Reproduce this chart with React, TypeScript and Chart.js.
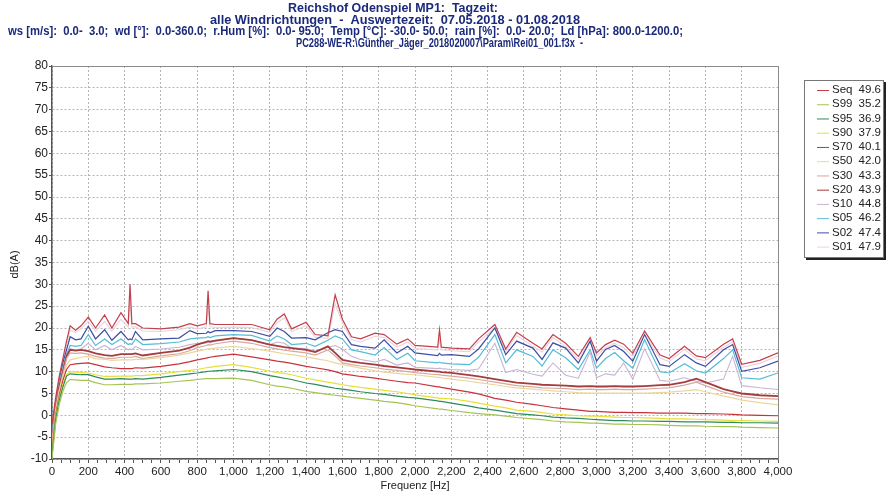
import { useEffect, useRef } from "react";
import { Chart, registerables } from "chart.js";

Chart.register(...registerables);

// ---------- DATA ----------
const freqHz = [
  0, 20, 40, 60, 80,
  100, 130, 160, 200, 240,
  290, 330, 380, 420, 430,
  440, 460, 500, 600, 700,
  760, 800, 850, 860, 870,
  900, 1000, 1100, 1200, 1240,
  1280, 1320, 1400, 1450, 1520,
  1560, 1600, 1650, 1700, 1780,
  1830, 1900, 1960, 2000, 2125,
  2135, 2145, 2200, 2300, 2350,
  2440, 2500, 2560, 2650, 2700,
  2760, 2830, 2900, 2965, 3000,
  3050, 3100, 3150, 3200, 3265,
  3350, 3400, 3485, 3550, 3600,
  3700, 3750, 3800, 3900, 4000,
];

const seq = [
  -2, 4, 9, 13, 17,
  20.5, 19.5, 20.5, 22.5, 20,
  23, 20, 23.5, 21, 30,
  21, 21, 20, 19.8, 20.2,
  21, 20.5, 21, 28.5, 21,
  20.8, 20.8, 20.8, 19.6, 22,
  23.2, 19.8, 21.3, 18.5, 18.2,
  27.6, 22, 18, 17.5, 18.8,
  18.5, 16.3, 17.5, 16, 15.6,
  19.6, 15.6, 15.4, 15.2, 17.5,
  20.8, 15.2, 19, 16.5, 15.2,
  18.5, 16.5, 13.5, 17.8, 14.3,
  16.2, 17.2, 16.3, 14.2, 19.3,
  13.8, 13, 15.8, 13.6, 13.2,
  16.3, 17.5, 11.7, 12.6, 14.3,
];
const s01 = [
  -3, 3.5, 8.5, 12.5, 16,
  19.5, 19, 19.8, 21.5, 19.3,
  21.5, 19.3, 22, 20.2, 26,
  20.2, 20.3, 19.3, 19.2, 19.6,
  20.2, 19.8, 20.2, 25, 20.3,
  20.1, 20.2, 20.1, 19, 21.2,
  22.3, 19.2, 20.5, 17.9, 17.6,
  25.5, 21.2, 17.3, 16.8, 18.1,
  17.8, 15.6, 16.8, 15.3, 15,
  17.5, 15, 14.8, 14.6, 16.8,
  20, 14.6, 18.3, 15.8, 14.5,
  17.8, 15.8, 12.8, 17, 13.6,
  15.5, 16.5, 15.5, 13.5, 18.5,
  13.1, 12.3, 15.1, 12.9, 12.5,
  15.6, 16.8, 11, 11.9, 13.6,
];
const s02 = [
  -3, 3, 8, 12, 15,
  18, 17.3, 17.5, 20.4, 17.5,
  19.6, 17.2, 19.2, 17.3, 17.5,
  17.3, 19.2, 17.3, 17.5, 17.7,
  19.4, 18.7, 18.8, 19.2, 18.9,
  19.4, 19.4, 19.2, 18.1, 20,
  19.2, 17.7, 17.8, 17.3, 18.9,
  19.6, 19.2, 16.2, 15.8, 15.4,
  17.3, 14.3, 15.8, 14.3, 13.7,
  14.2, 13.8, 13.9, 13.5, 15.2,
  20, 13.9, 17, 15.4, 12.8,
  16.6, 15.4, 12, 17, 12.4,
  15.1, 16, 14.6, 12.4, 18.5,
  11.6, 11.2, 13.9, 12, 11.2,
  15, 16.2, 10.1, 10.9, 12.4,
];
const s05 = [
  -4, 2.5, 7.5, 11, 14,
  16, 15.8, 16, 18.5, 16,
  17.5, 16.2, 17.5, 16.2, 16.4,
  16.2, 17.5, 16.2, 16.4, 16.8,
  17.5, 17.7, 17.8, 18, 17.8,
  18.2, 18.5, 18.3, 17, 18.2,
  17.5, 16.2, 16.5, 15.8, 17.2,
  18.2, 17.5, 15, 14.6, 13.8,
  15.5, 12.8, 14.2, 12.5, 12,
  12.2, 12, 11.8, 11.6, 13.3,
  18.5, 12, 15, 13.5, 11.3,
  15, 13.2, 10.5, 15, 10.8,
  13, 14.4, 12.5, 10.8, 17.3,
  10, 9.7, 11.8, 10.2, 9.7,
  13, 15, 8.6, 8.3, 9.7,
];
const s10 = [
  -5, 2, 7, 10.5, 13.5,
  15.2, 15, 15.2, 16.5, 15,
  16, 15, 16, 15, 15.2,
  15, 15.8, 15, 15.2, 15.6,
  16.2, 16.5, 16.6, 16.8, 16.6,
  17, 17.7, 17.2, 16.2, 16.8,
  16.5, 15.4, 15.3, 14.7, 15.6,
  16, 15.2, 13.5, 12.8, 12.2,
  12.8, 11.5, 12, 11, 10.7,
  10.8, 10.7, 10.5, 10.3, 10.6,
  16.5, 9.8, 10.5, 9.4, 9,
  12, 9.2, 8.5, 14.5, 8.6,
  9.5, 9.2, 12, 8.3, 15.3,
  8, 7.8, 8.6, 7.8, 7.4,
  8.3, 13.5, 6.8, 6.3, 5.9,
];
const s20 = [
  -6, 1.5, 6.5, 10, 13.5,
  15, 14.8, 15, 14.7, 14.2,
  13.8, 13.6, 14, 14, 14,
  14, 14.2, 13.7, 14.3, 14.8,
  15.5, 16.2, 16.8, 17, 16.9,
  17.1, 17.7, 17.2, 16.2, 15.9,
  15.6, 15.4, 15, 14.5, 15.8,
  14.3, 12.7, 12.3, 12, 11.6,
  11.3, 11, 10.7, 10.5, 10,
  10, 9.9, 9.7, 9.2, 8.9,
  8.3, 7.9, 7.5, 7.2, 7,
  6.9, 6.8, 6.6, 6.7, 6.6,
  6.6, 6.7, 6.6, 6.6, 6.7,
  6.9, 7, 7.6, 8.4, 7.6,
  6, 5.5, 5, 4.6, 4.4,
];
const s30 = [
  -6, 1.5, 6, 9.5, 13,
  14.3, 14.2, 14.3, 14, 13.5,
  13.1, 13, 13.3, 13.3, 13.3,
  13.3, 13.5, 13, 13.6, 14.1,
  14.8, 15.5, 16, 16.2, 16.1,
  16.4, 17, 16.5, 15.5, 15.2,
  14.9, 14.7, 14.3, 13.8, 15,
  13.6, 12, 11.6, 11.3, 10.9,
  10.6, 10.3, 10, 9.8, 9.3,
  9.3, 9.2, 9, 8.5, 8.2,
  7.6, 7.2, 6.8, 6.5, 6.3,
  6.2, 6.1, 5.9, 6, 5.9,
  5.9, 6, 5.9, 5.9, 6,
  6.2, 6.3, 6.9, 7.6, 6.8,
  5.3, 4.8, 4.3, 3.9, 3.7,
];
const s50 = [
  -7, 1, 5.5, 9, 11.5,
  12.7, 13, 13.3, 13.5, 13,
  12.8, 12.6, 12.7, 12.7, 12.7,
  12.7, 12.8, 12.8, 13.2, 13.8,
  14.3, 14.7, 15.1, 15.2, 15.2,
  15.4, 15.8, 15.3, 14.7, 14.4,
  14.1, 13.9, 13.4, 13, 12.5,
  12, 11.6, 11.2, 10.8, 10.2,
  9.9, 9.6, 9.4, 9.3, 8.7,
  8.7, 8.6, 8.3, 7.8, 7.5,
  7, 6.6, 6.3, 6, 5.8,
  5.6, 5.4, 5.2, 5.1, 5.1,
  5.1, 5.1, 5.1, 5.1, 5.1,
  5.2, 5.3, 5.6, 5.9, 5.4,
  4.4, 4, 3.5, 2.9, 2.4,
];
const s70 = [
  -8, 0, 4.5, 8, 10.5,
  11.6, 11.8, 11.9, 12, 11.6,
  11.1, 10.9, 10.7, 10.7, 10.7,
  10.7, 10.9, 10.8, 11.2, 11.8,
  12.3, 12.7, 13.1, 13.2, 13.3,
  13.5, 14, 13.4, 12.7, 12.4,
  12.2, 11.9, 11.2, 10.9, 10.4,
  10, 9.5, 9.2, 8.9, 8.5,
  8.2, 7.8, 7.5, 7.4, 6.5,
  6.5, 6.4, 6, 5.3, 4.9,
  3.9, 3.5, 3, 2.5, 2.2,
  1.8, 1.5, 1.2, 0.9, 0.9,
  0.8, 0.7, 0.7, 0.6, 0.6,
  0.5, 0.5, 0.5, 0.4, 0.4,
  0.3, 0.2, 0.1, 0, -0.1,
];
const s90 = [
  -8.5, -0.5, 4, 7, 9.3,
  10, 9.9, 9.8, 9.7, 9.3,
  8.9, 8.9, 9, 9, 9,
  9, 9.1, 9.1, 9.5, 10,
  10.3, 10.5, 10.9, 11, 11,
  11.2, 11.6, 11, 10.1, 9.8,
  9.6, 9.3, 8.5, 8.1, 7.6,
  7.3, 7, 6.7, 6.4, 6,
  5.7, 5.4, 5, 4.7, 4,
  3.9, 3.9, 3.8, 3.2, 2.8,
  2.1, 1.7, 1.2, 0.9, 0.6,
  0.3, 0.1, -0.1, -0.2, -0.2,
  -0.3, -0.4, -0.5, -0.5, -0.6,
  -0.7, -0.8, -0.8, -0.9, -1,
  -1.1, -1.2, -1.2, -1.3, -1.4,
];
const s95 = [
  -9, -1, 3.5, 6.5, 9,
  9.5, 9.4, 9.3, 9.3, 8.8,
  8.3, 8.3, 8.4, 8.3, 8.3,
  8.3, 8.4, 8.3, 8.7, 9.2,
  9.5, 9.7, 10, 10.1, 10.1,
  10.2, 10.5, 10, 9.1, 8.8,
  8.5, 8.2, 7.4, 7.1, 6.5,
  6.2, 6, 5.7, 5.4, 5,
  4.8, 4.4, 4.1, 4, 3.3,
  3.2, 3.2, 2.8, 2.1, 1.7,
  1.2, 0.8, 0.4, 0.1, -0.1,
  -0.4, -0.6, -0.7, -0.9, -1,
  -1.1, -1.2, -1.2, -1.3, -1.3,
  -1.4, -1.4, -1.5, -1.5, -1.5,
  -1.6, -1.6, -1.7, -1.7, -1.8,
];
const s99 = [
  -10, -2, 2.5, 5.5, 7.5,
  8.2, 8.1, 8, 8, 7.5,
  7, 7, 7.1, 7.1, 7.1,
  7.1, 7.2, 7.2, 7.4, 7.8,
  8, 8.2, 8.4, 8.4, 8.4,
  8.4, 8.5, 8, 7, 6.7,
  6.5, 6.2, 5.5, 5.2, 4.8,
  4.6, 4.4, 4.1, 3.9, 3.5,
  3.2, 2.9, 2.5, 2.2, 1.5,
  1.4, 1.4, 1.1, 0.6, 0.4,
  0.1, -0.2, -0.5, -0.8, -1,
  -1.3, -1.5, -1.6, -1.8, -1.8,
  -1.9, -2, -2, -2.1, -2.1,
  -2.2, -2.3, -2.4, -2.4, -2.5,
  -2.6, -2.6, -2.7, -2.8, -2.9,
];

const seriesNames = ["Seq", "S99", "S95", "S90", "S70", "S50", "S30", "S20", "S10", "S05", "S02", "S01"];
const seriesValues = [seq, s99, s95, s90, s70, s50, s30, s20, s10, s05, s02, s01];
const legendLevels = ["49.6", "35.2", "36.9", "37.9", "40.1", "42.0", "43.3", "43.9", "44.8", "46.2", "47.4", "47.9"];

const titleLines = [
  "Reichshof Odenspiel MP1:  Tagzeit:",
  "alle Windrichtungen  -  Auswertezeit:  07.05.2018 - 01.08.2018",
  "ws [m/s]:  0.0-  3.0;  wd [°]:  0.0-360.0;  r.Hum [%]:  0.0- 95.0;  Temp [°C]: -30.0- 50.0;  rain [%]:  0.0- 20.0;  Ld [hPa]: 800.0-1200.0;",
  "PC288-WE-R:\\Günther_Jäger_2018020007\\Param\\Rei01_001.f3x  -",
];
const yAxisTitle = "dB(A)";
const xAxisTitle = "Frequenz [Hz]";
const yMin = -10;
const yMax = 80;
const yStep = 5;
const xMin = 0;
const xMax = 4000;
const xLabelStep = 200;
const xMinorStep = 50;

// ---------- STYLE ----------
const seriesColors = [
  "#c2404c", // Seq
  "#a6c455", // S99
  "#2f8a5a", // S95
  "#e6e03a", // S90
  "#c8323c", // S70
  "#ecd79a", // S50
  "#d9a6a0", // S30
  "#a33c3c", // S20
  "#c9b4d4", // S10
  "#56bcd6", // S05
  "#3c4ea6", // S02
  "#ecd2da", // S01
];
const seriesWidths = [1.2, 1.2, 1.2, 1.2, 1.2, 1.2, 1.2, 1.8, 1.1, 1.2, 1.2, 1.1];
const titleLayout = [
  { left: 288, width: 210, base: 12 },
  { left: 210, width: 370, base: 23.5 },
  { left: 8, width: 675, base: 35 },
  { left: 296, width: 287, base: 46.5 },
];
const FONT = "'Liberation Sans', Arial, Helvetica, sans-serif";

const decorPlugin = {
  id: "decor",
  beforeDraw(chart: any) {
    const ctx = chart.ctx;
    ctx.save();
    ctx.fillStyle = "#ffffff";
    ctx.fillRect(0, 0, chart.width, chart.height);
    ctx.restore();
  },
  afterDraw(chart: any) {
    const ctx = chart.ctx;
    const a = chart.chartArea;
    ctx.save();
    // frame top/right
    ctx.strokeStyle = "#8a8a8a";
    ctx.lineWidth = 1;
    ctx.beginPath();
    ctx.moveTo(a.left, a.top + 0.5);
    ctx.lineTo(a.right + 0.5, a.top + 0.5);
    ctx.lineTo(a.right + 0.5, a.bottom);
    ctx.stroke();

    // title
    ctx.fillStyle = "#1b2a7a";
    ctx.font = `bold 12px ${FONT}`;
    ctx.textBaseline = "alphabetic";
    ctx.textAlign = "left";
    titleLines.forEach((t, i) => {
      const L = titleLayout[i];
      const w = ctx.measureText(t).width;
      ctx.save();
      ctx.translate(L.left, L.base);
      ctx.scale(L.width / w, 1);
      ctx.fillText(t, 0, 0);
      ctx.restore();
    });

    // axis titles
    ctx.fillStyle = "#222";
    ctx.font = `11px ${FONT}`;
    ctx.textAlign = "center";
    ctx.textBaseline = "middle";
    ctx.fillText(xAxisTitle, (a.left + a.right) / 2, 486);
    ctx.save();
    ctx.translate(15, (a.top + a.bottom) / 2 + 2);
    ctx.rotate(-Math.PI / 2);
    ctx.fillText(yAxisTitle, 0, 0);
    ctx.restore();

    // legend
    const bx = 804, by = 80, bw = 80, bh = 178;
    ctx.fillStyle = "#222";
    ctx.fillRect(bx + 2, by + 2, bw, bh);
    ctx.fillStyle = "#fff";
    ctx.fillRect(bx, by, bw, bh);
    ctx.strokeStyle = "#777";
    ctx.lineWidth = 1;
    ctx.strokeRect(bx + 0.5, by + 0.5, bw - 1, bh - 1);
    ctx.font = `11.5px ${FONT}`;
    ctx.textBaseline = "middle";
    seriesNames.forEach((n, i) => {
      const cy = by + 10 + i * 14.24;
      ctx.strokeStyle = seriesColors[i];
      ctx.lineWidth = 1;
      ctx.beginPath();
      ctx.moveTo(817, cy + 0.5);
      ctx.lineTo(829, cy + 0.5);
      ctx.stroke();
      ctx.fillStyle = "#222";
      ctx.textAlign = "left";
      ctx.fillText(n, 832, cy);
      ctx.textAlign = "right";
      ctx.fillText(legendLevels[i], 881, cy);
    });
    ctx.restore();
  },
};

export default function App() {
  const ref = useRef<HTMLCanvasElement | null>(null);
  useEffect(() => {
    if (!ref.current) return;
    Chart.defaults.font.family = FONT;
    const datasets = seriesNames.map((name, si) => ({
      label: name,
      data: freqHz.map((f, i) => ({ x: f, y: seriesValues[si][i] })),
      borderColor: seriesColors[si],
      backgroundColor: seriesColors[si],
      borderWidth: seriesWidths[si],
      pointRadius: 0,
      tension: 0,
      fill: false,
    }));
    const chart = new Chart(ref.current, {
      type: "line",
      data: { datasets },
      plugins: [decorPlugin],
      options: {
        animation: false,
        responsive: false,
        events: [],
        layout: { padding: { top: 66, right: 109, left: 0, bottom: 0 } },
        plugins: { legend: { display: false }, tooltip: { enabled: false }, title: { display: false } },
        scales: {
          x: {
            type: "linear",
            min: xMin,
            max: xMax,
            afterFit: (s: any) => { s.height = 36; },
            afterBuildTicks: (s: any) => {
              const t = [];
              for (let v = xMin; v <= xMax; v += xMinorStep) t.push({ value: v });
              s.ticks = t;
            },
            ticks: {
              autoSkip: false,
              maxRotation: 0,
              padding: 2,
              color: "#222",
              font: { size: 11.5 },
              callback: (v: any) => (Number(v) % xLabelStep === 0 ? Number(v).toLocaleString("en-US") : ""),
            },
            grid: {
              color: (c: any) => (c.tick && c.tick.value % xLabelStep === 0 ? "#b4b4b4" : "rgba(0,0,0,0)"),
              tickColor: "#555",
              tickLength: 4,
              lineWidth: 1,
            },
            border: { display: true, color: "#555", width: 1.5, dash: [2, 2] },
          },
          y: {
            type: "linear",
            min: yMin,
            max: yMax,
            afterFit: (s: any) => { s.width = 52; },
            ticks: { stepSize: yStep, padding: 1, color: "#222", font: { size: 12 } },
            grid: { color: "#b4b4b4", tickColor: "#555", tickLength: 3, lineWidth: 1 },
            border: { display: true, color: "#555", width: 1.5, dash: [2, 2] },
          },
        },
      },
    } as any);
    return () => chart.destroy();
  }, []);
  return (
    <div style={{ position: "absolute", left: 0, top: 0, width: 887, height: 495, background: "#fff" }}>
      <canvas ref={ref} width={887} height={495} style={{ display: "block" }} />
    </div>
  );
}
